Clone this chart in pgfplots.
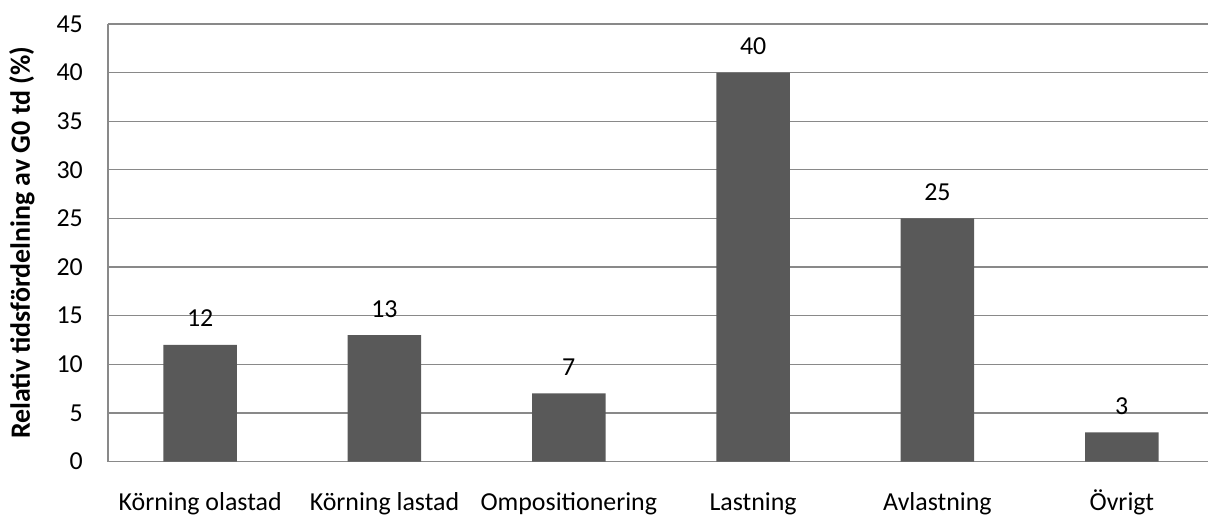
\documentclass[border=0pt]{standalone}
\usepackage{pgfplots}
\pgfplotsset{compat=1.18}
\usepackage{fontspec}
\setmainfont{Carlito}
\definecolor{barc}{HTML}{595959}
\definecolor{gridc}{HTML}{898989}
\begin{document}
\begin{tikzpicture}[x=1bp,y=1bp]
\begin{axis}[
  at={(0,0)}, anchor=south west,
  scale only axis, width=1106bp, height=437.5bp,
  ybar, bar width=73.5bp,
  xmin=-0.5, xmax=5.5, ymin=0, ymax=45,
  xtick=data,
  xticklabels={Körning olastad, Körning lastad, Ompositionering, Lastning, Avlastning, Övrigt},
  ytick={0,5,...,45},
  axis x line*=bottom, axis y line*=left,
  axis line style={gridc, line width=1.3bp},
  major tick length=0pt,
  ymajorgrids, grid style={gridc, line width=1.3bp},
  tick label style={font=\fontsize{26}{30}\selectfont, black, inner sep=0pt},
  /pgf/number format/assume math mode=true,
  yticklabel style={anchor=east, xshift=-25bp},
  xticklabel style={anchor=base, yshift=-48.5bp},
  ylabel={\bfseries Relativ tidsfördelning av G0 td (\%)},
  ylabel style={font=\fontsize{28}{32}\selectfont, at={(axis description cs:-0.0778,0.5)}, anchor=center, inner sep=0pt},
  nodes near coords,
  every node near coord/.append style={font=\fontsize{26}{30}\selectfont, black, anchor=base, inner sep=0pt, yshift=18bp},
]
\addplot[fill=barc, draw=none] coordinates {(0,12) (1,13) (2,7) (3,40) (4,25) (5,3)};
\end{axis}
\pgfresetboundingbox
\path (-108bp,-54.5bp) rectangle (1100bp,461.5bp);
\end{tikzpicture}
\end{document}
